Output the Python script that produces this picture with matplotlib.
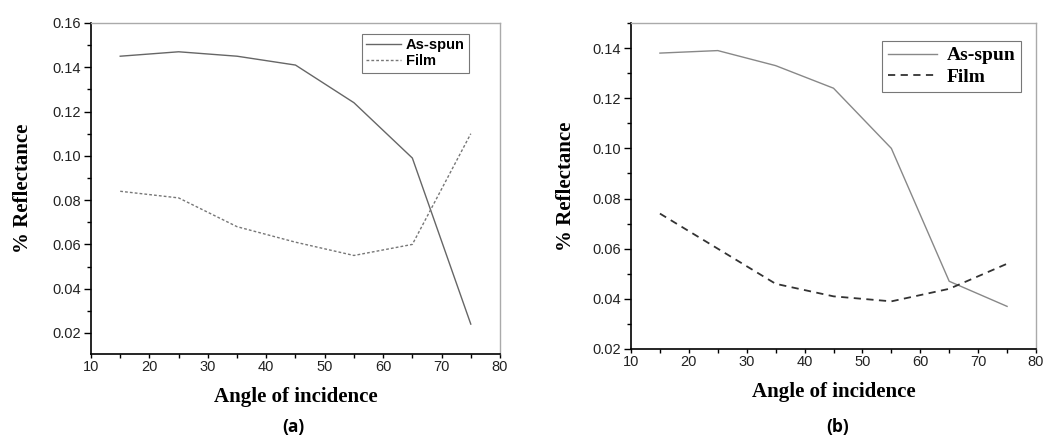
import numpy as np
import matplotlib
matplotlib.use("Agg")
import matplotlib.pyplot as plt
from matplotlib.ticker import MultipleLocator, FormatStrFormatter

# data
angle = [15, 25, 35, 45, 55, 65, 75]
asspun_a = [0.145, 0.147, 0.145, 0.141, 0.124, 0.099, 0.024]
film_a = [0.084, 0.081, 0.068, 0.061, 0.055, 0.060, 0.110]
asspun_b = [0.138, 0.139, 0.133, 0.124, 0.100, 0.047, 0.037]
film_b = [0.074, 0.060, 0.046, 0.041, 0.039, 0.044, 0.054]
panel_tags = ["(a)", "(b)"]

W, H = 1044, 437
fig = plt.figure(figsize=(W / 100, H / 100), dpi=100)

def px_axes(x0, y0, x1, y1):
    return fig.add_axes([x0 / W, 1 - y1 / H, (x1 - x0) / W, (y1 - y0) / H])

serif = "Liberation Serif"
sans = "Liberation Sans"

def style(ax, ylim, ylabelpad):
    ax.set_xlim(10, 80)
    ax.set_ylim(*ylim)
    ax.xaxis.set_major_locator(MultipleLocator(10))
    ax.xaxis.set_minor_locator(MultipleLocator(5))
    ax.yaxis.set_major_locator(MultipleLocator(0.02))
    ax.yaxis.set_minor_locator(MultipleLocator(0.01))
    ax.yaxis.set_major_formatter(FormatStrFormatter("%.2f"))
    ax.tick_params(which="both", direction="out", top=False, right=False,
                   width=1, labelsize=10.5, labelcolor="#222222")
    ax.tick_params(axis="y", which="major", length=5, pad=2)
    ax.tick_params(axis="y", which="minor", length=3)
    ax.tick_params(axis="x", which="major", length=3, pad=1)
    ax.tick_params(axis="x", which="minor", length=3)
    for lab in ax.get_xticklabels() + ax.get_yticklabels():
        lab.set_fontfamily(sans)
    for s in ["left", "bottom"]:
        ax.spines[s].set_color("black")
        ax.spines[s].set_linewidth(1.2)
    for s in ["top", "right"]:
        ax.spines[s].set_color("#aaaaaa")
        ax.spines[s].set_linewidth(1.0)
    ax.set_xlabel("Angle of incidence", fontfamily=serif, fontweight="bold",
                  fontsize=15, labelpad=10)
    ax.set_ylabel("% Reflectance", fontfamily=serif, fontweight="bold",
                  fontsize=15, labelpad=ylabelpad)

# panel (a)
ax1 = px_axes(91, 23, 500, 354)
ax1.plot(angle, asspun_a, color="#666666", lw=1.0, label="As-spun")
ax1.plot(angle, film_a, color="#777777", lw=1.0, ls=(0, (2, 1.5)), label="Film")
style(ax1, (0.0105, 0.16), 14)
leg1 = ax1.legend(loc="upper right", bbox_to_anchor=(0.924, 0.967), borderaxespad=0,
                  frameon=True, fancybox=False, edgecolor="#555555",
                  handlelength=2.4, handletextpad=0.3, borderpad=0.3,
                  labelspacing=0.15,
                  prop={"family": sans, "weight": "bold", "size": 10.5})
leg1.get_frame().set_linewidth(0.8)

# panel (b)
ax2 = px_axes(631, 23, 1036, 349)
ax2.plot(angle, asspun_b, color="#888888", lw=1.0, label="As-spun")
ax2.plot(angle, film_b, color="#333333", lw=1.3, ls=(0, (4, 3)), label="Film")
style(ax2, (0.02, 0.15), 12)
leg2 = ax2.legend(loc="upper right", bbox_to_anchor=(0.963, 0.945), borderaxespad=0,
                  frameon=True, fancybox=False, edgecolor="#555555",
                  handlelength=2.5, handletextpad=0.5, borderpad=0.3,
                  labelspacing=0.2,
                  prop={"family": serif, "weight": "bold", "size": 14})
leg2.get_frame().set_linewidth(0.8)

# panel tags below
fig.text(293 / W, 1 - 427 / H, panel_tags[0], ha="center", va="center",
         fontfamily="Open Sans", fontweight="bold", fontsize=12.5)
fig.text(838 / W, 1 - 427 / H, panel_tags[1], ha="center", va="center",
         fontfamily="Open Sans", fontweight="bold", fontsize=12.5)

fig.savefig("out.png", dpi=100)
